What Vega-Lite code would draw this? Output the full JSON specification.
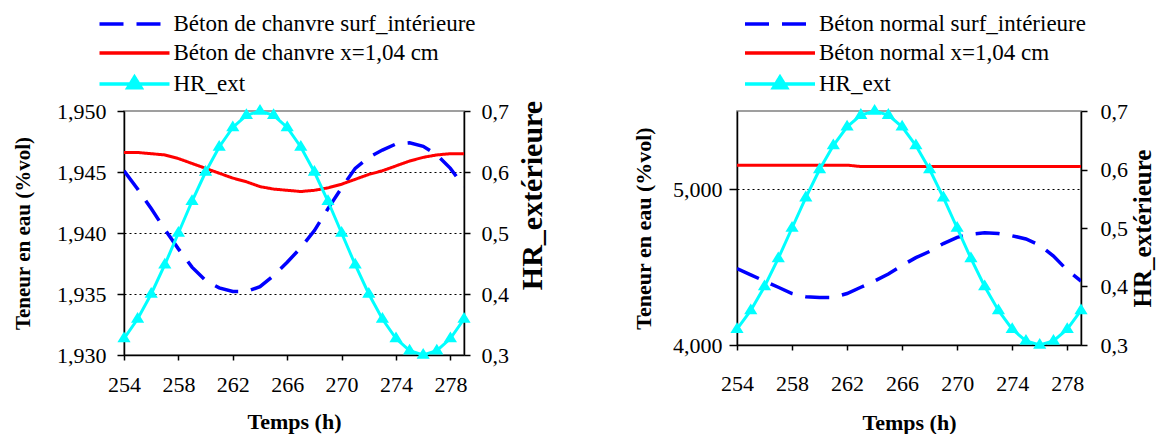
{
  "$schema": "https://vega.github.io/schema/vega-lite/v6.json",
  "padding": {"left": 11, "top": 11, "right": 0, "bottom": 0},
  "spacing": 82,
  "config": {
    "font": "Liberation Serif",
    "view": {"stroke": "#808080", "strokeWidth": 1.5},
    "axis": {"labelFont": "Liberation Serif", "labelFontSize": 22, "labelColor": "black", "titleFont": "Liberation Serif", "titleFontWeight": "bold", "titleColor": "black", "domainColor": "black", "tickColor": "black", "domainWidth": 1.5, "tickWidth": 1.5, "grid": false, "labelFlush": false, "labelOverlap": false},
    "legend": {"labelFont": "Liberation Serif", "labelFontSize": 23, "labelColor": "black", "symbolStrokeWidth": 3.5, "symbolSize": 400, "labelOffset": 27, "rowPadding": 5, "padding": 0, "labelLimit": 500}
  },
  "datasets": {
    "chanvre": [
      {"t":254,"serie":"Béton de chanvre surf_intérieure","v":1.9451},{"t":255,"serie":"Béton de chanvre surf_intérieure","v":1.9436},{"t":256,"serie":"Béton de chanvre surf_intérieure","v":1.9420},{"t":257,"serie":"Béton de chanvre surf_intérieure","v":1.9403},{"t":258,"serie":"Béton de chanvre surf_intérieure","v":1.9387},{"t":259,"serie":"Béton de chanvre surf_intérieure","v":1.9372},{"t":260,"serie":"Béton de chanvre surf_intérieure","v":1.9361},{"t":261,"serie":"Béton de chanvre surf_intérieure","v":1.9355},{"t":262,"serie":"Béton de chanvre surf_intérieure","v":1.9352},{"t":263,"serie":"Béton de chanvre surf_intérieure","v":1.9352},{"t":264,"serie":"Béton de chanvre surf_intérieure","v":1.9356},{"t":265,"serie":"Béton de chanvre surf_intérieure","v":1.9365},{"t":266,"serie":"Béton de chanvre surf_intérieure","v":1.9376},{"t":267,"serie":"Béton de chanvre surf_intérieure","v":1.9388},{"t":268,"serie":"Béton de chanvre surf_intérieure","v":1.9402},{"t":269,"serie":"Béton de chanvre surf_intérieure","v":1.9420},{"t":270,"serie":"Béton de chanvre surf_intérieure","v":1.9437},{"t":271,"serie":"Béton de chanvre surf_intérieure","v":1.9453},{"t":272,"serie":"Béton de chanvre surf_intérieure","v":1.9462},{"t":273,"serie":"Béton de chanvre surf_intérieure","v":1.9468},{"t":274,"serie":"Béton de chanvre surf_intérieure","v":1.9473},{"t":275,"serie":"Béton de chanvre surf_intérieure","v":1.9474},{"t":276,"serie":"Béton de chanvre surf_intérieure","v":1.9471},{"t":277,"serie":"Béton de chanvre surf_intérieure","v":1.9464},{"t":278,"serie":"Béton de chanvre surf_intérieure","v":1.9453},{"t":279,"serie":"Béton de chanvre surf_intérieure","v":1.9438},
      {"t":254,"serie":"Béton de chanvre x=1,04 cm","v":1.9466},{"t":255,"serie":"Béton de chanvre x=1,04 cm","v":1.9466},{"t":256,"serie":"Béton de chanvre x=1,04 cm","v":1.9465},{"t":257,"serie":"Béton de chanvre x=1,04 cm","v":1.9464},{"t":258,"serie":"Béton de chanvre x=1,04 cm","v":1.9461},{"t":259,"serie":"Béton de chanvre x=1,04 cm","v":1.9457},{"t":260,"serie":"Béton de chanvre x=1,04 cm","v":1.9453},{"t":261,"serie":"Béton de chanvre x=1,04 cm","v":1.9449},{"t":262,"serie":"Béton de chanvre x=1,04 cm","v":1.9445},{"t":263,"serie":"Béton de chanvre x=1,04 cm","v":1.9442},{"t":264,"serie":"Béton de chanvre x=1,04 cm","v":1.9438},{"t":265,"serie":"Béton de chanvre x=1,04 cm","v":1.9436},{"t":266,"serie":"Béton de chanvre x=1,04 cm","v":1.9435},{"t":267,"serie":"Béton de chanvre x=1,04 cm","v":1.9434},{"t":268,"serie":"Béton de chanvre x=1,04 cm","v":1.9435},{"t":269,"serie":"Béton de chanvre x=1,04 cm","v":1.9437},{"t":270,"serie":"Béton de chanvre x=1,04 cm","v":1.9440},{"t":271,"serie":"Béton de chanvre x=1,04 cm","v":1.9444},{"t":272,"serie":"Béton de chanvre x=1,04 cm","v":1.9448},{"t":273,"serie":"Béton de chanvre x=1,04 cm","v":1.9451},{"t":274,"serie":"Béton de chanvre x=1,04 cm","v":1.9455},{"t":275,"serie":"Béton de chanvre x=1,04 cm","v":1.9459},{"t":276,"serie":"Béton de chanvre x=1,04 cm","v":1.9462},{"t":277,"serie":"Béton de chanvre x=1,04 cm","v":1.9464},{"t":278,"serie":"Béton de chanvre x=1,04 cm","v":1.9465},{"t":279,"serie":"Béton de chanvre x=1,04 cm","v":1.9465}
    ],
    "normal": [
      {"t":254,"serie":"Béton normal surf_intérieure","v":4.49},{"t":255,"serie":"Béton normal surf_intérieure","v":4.45},{"t":256,"serie":"Béton normal surf_intérieure","v":4.41},{"t":257,"serie":"Béton normal surf_intérieure","v":4.37},{"t":258,"serie":"Béton normal surf_intérieure","v":4.33},{"t":259,"serie":"Béton normal surf_intérieure","v":4.31},{"t":260,"serie":"Béton normal surf_intérieure","v":4.305},{"t":261,"serie":"Béton normal surf_intérieure","v":4.305},{"t":262,"serie":"Béton normal surf_intérieure","v":4.33},{"t":263,"serie":"Béton normal surf_intérieure","v":4.37},{"t":264,"serie":"Béton normal surf_intérieure","v":4.41},{"t":265,"serie":"Béton normal surf_intérieure","v":4.455},{"t":266,"serie":"Béton normal surf_intérieure","v":4.51},{"t":267,"serie":"Béton normal surf_intérieure","v":4.56},{"t":268,"serie":"Béton normal surf_intérieure","v":4.60},{"t":269,"serie":"Béton normal surf_intérieure","v":4.65},{"t":270,"serie":"Béton normal surf_intérieure","v":4.69},{"t":271,"serie":"Béton normal surf_intérieure","v":4.71},{"t":272,"serie":"Béton normal surf_intérieure","v":4.72},{"t":273,"serie":"Béton normal surf_intérieure","v":4.715},{"t":274,"serie":"Béton normal surf_intérieure","v":4.70},{"t":275,"serie":"Béton normal surf_intérieure","v":4.68},{"t":276,"serie":"Béton normal surf_intérieure","v":4.64},{"t":277,"serie":"Béton normal surf_intérieure","v":4.57},{"t":278,"serie":"Béton normal surf_intérieure","v":4.48},{"t":279,"serie":"Béton normal surf_intérieure","v":4.41},
      {"t":254,"serie":"Béton normal x=1,04 cm","v":5.153},{"t":255,"serie":"Béton normal x=1,04 cm","v":5.153},{"t":256,"serie":"Béton normal x=1,04 cm","v":5.153},{"t":257,"serie":"Béton normal x=1,04 cm","v":5.153},{"t":258,"serie":"Béton normal x=1,04 cm","v":5.153},{"t":259,"serie":"Béton normal x=1,04 cm","v":5.153},{"t":260,"serie":"Béton normal x=1,04 cm","v":5.153},{"t":261,"serie":"Béton normal x=1,04 cm","v":5.153},{"t":262,"serie":"Béton normal x=1,04 cm","v":5.153},{"t":263,"serie":"Béton normal x=1,04 cm","v":5.144},{"t":264,"serie":"Béton normal x=1,04 cm","v":5.144},{"t":265,"serie":"Béton normal x=1,04 cm","v":5.144},{"t":266,"serie":"Béton normal x=1,04 cm","v":5.144},{"t":267,"serie":"Béton normal x=1,04 cm","v":5.144},{"t":268,"serie":"Béton normal x=1,04 cm","v":5.144},{"t":269,"serie":"Béton normal x=1,04 cm","v":5.144},{"t":270,"serie":"Béton normal x=1,04 cm","v":5.144},{"t":271,"serie":"Béton normal x=1,04 cm","v":5.144},{"t":272,"serie":"Béton normal x=1,04 cm","v":5.144},{"t":273,"serie":"Béton normal x=1,04 cm","v":5.144},{"t":274,"serie":"Béton normal x=1,04 cm","v":5.144},{"t":275,"serie":"Béton normal x=1,04 cm","v":5.144},{"t":276,"serie":"Béton normal x=1,04 cm","v":5.144},{"t":277,"serie":"Béton normal x=1,04 cm","v":5.144},{"t":278,"serie":"Béton normal x=1,04 cm","v":5.144},{"t":279,"serie":"Béton normal x=1,04 cm","v":5.144}
    ],
    "hr": [
      {"t":254,"serie":"HR_ext","v":0.327},{"t":255,"serie":"HR_ext","v":0.359},{"t":256,"serie":"HR_ext","v":0.400},{"t":257,"serie":"HR_ext","v":0.448},{"t":258,"serie":"HR_ext","v":0.500},{"t":259,"serie":"HR_ext","v":0.552},{"t":260,"serie":"HR_ext","v":0.600},{"t":261,"serie":"HR_ext","v":0.641},{"t":262,"serie":"HR_ext","v":0.673},{"t":263,"serie":"HR_ext","v":0.693},{"t":264,"serie":"HR_ext","v":0.700},{"t":265,"serie":"HR_ext","v":0.693},{"t":266,"serie":"HR_ext","v":0.673},{"t":267,"serie":"HR_ext","v":0.641},{"t":268,"serie":"HR_ext","v":0.600},{"t":269,"serie":"HR_ext","v":0.552},{"t":270,"serie":"HR_ext","v":0.500},{"t":271,"serie":"HR_ext","v":0.448},{"t":272,"serie":"HR_ext","v":0.400},{"t":273,"serie":"HR_ext","v":0.359},{"t":274,"serie":"HR_ext","v":0.327},{"t":275,"serie":"HR_ext","v":0.307},{"t":276,"serie":"HR_ext","v":0.300},{"t":277,"serie":"HR_ext","v":0.307},{"t":278,"serie":"HR_ext","v":0.327},{"t":279,"serie":"HR_ext","v":0.359}
    ]
  },
  "hconcat": [
    {
      "width": 340,
      "height": 244,
      "layer": [
        {
          "layer": [
            {
              "data": {"name": "chanvre"},
              "transform": [{"filter": "datum.serie == 'Béton de chanvre surf_intérieure'"}],
              "mark": {"type": "line", "strokeWidth": 3.5, "clip": true},
              "encoding": {
                "x": {"field": "t", "type": "quantitative", "scale": {"domain": [254, 279], "nice": false, "zero": false}, "axis": {"values": [254, 258, 262, 266, 270, 274, 278], "title": "Temps (h)", "titleFontSize": 22, "tickSize": 5, "labelPadding": 14, "titlePadding": 16}},
                "y": {"field": "v", "type": "quantitative", "scale": {"domain": [1.93, 1.95], "nice": false, "zero": false}, "axis": {"values": [1.93, 1.935, 1.94, 1.945, 1.95], "labelExpr": "replace(format(datum.value, '.3f'), '.', ',')", "title": "Teneur en eau (%vol)", "titleFontSize": 21, "tickSize": 7, "labelPadding": 11, "titlePadding": 23, "grid": true, "gridColor": "black", "gridDash": [2, 3], "gridWidth": 1, "gridOpacity": {"condition": {"test": "datum.value > 1.9495 || datum.value < 1.9305", "value": 0}, "value": 1}}},
                "color": {"field": "serie", "type": "nominal", "scale": {"domain": ["Béton de chanvre surf_intérieure", "Béton de chanvre x=1,04 cm", "HR_ext"], "range": ["#0000FF", "#FF0000", "#00FFFF"]}, "legend": {"title": null, "orient": "none", "legendX": -1.5, "legendY": -99}},
                "strokeDash": {"field": "serie", "type": "nominal", "scale": {"domain": ["Béton de chanvre surf_intérieure", "Béton de chanvre x=1,04 cm", "HR_ext"], "range": [[24, 13], [1, 0], [1, 0]]}, "legend": {"title": null, "orient": "none", "legendX": -1.5, "legendY": -99}}
              }
            },
            {
              "data": {"name": "chanvre"},
              "transform": [{"filter": "datum.serie == 'Béton de chanvre x=1,04 cm'"}],
              "mark": {"type": "line", "strokeWidth": 3, "clip": true},
              "encoding": {
                "x": {"field": "t", "type": "quantitative"},
                "y": {"field": "v", "type": "quantitative"},
                "color": {"field": "serie", "type": "nominal"},
                "strokeDash": {"field": "serie", "type": "nominal"}
              }
            }
          ]
        },
        {
          "layer": [
            {
              "data": {"name": "hr"},
              "mark": {"type": "line", "strokeWidth": 3},
              "encoding": {
                "x": {"field": "t", "type": "quantitative"},
                "y": {"field": "v", "type": "quantitative", "scale": {"domain": [0.3, 0.7], "nice": false, "zero": false}, "axis": {"orient": "right", "values": [0.3, 0.4, 0.5, 0.6, 0.7], "labelExpr": "replace(format(datum.value, '.1f'), '.', ',')", "title": "HR_extérieure", "titleFontSize": 30, "titleAngle": 270, "titleBaseline": "top", "titleY": 84, "tickSize": 6, "labelPadding": 11, "titlePadding": 9}},
                "color": {"field": "serie", "type": "nominal"}
              }
            },
            {
              "data": {"name": "hr"},
              "mark": {"type": "point", "filled": true, "opacity": 1, "size": 400, "strokeWidth": 0},
              "encoding": {
                "x": {"field": "t", "type": "quantitative"},
                "y": {"field": "v", "type": "quantitative"},
                "color": {"field": "serie", "type": "nominal"},
                "shape": {"field": "serie", "type": "nominal", "scale": {"domain": ["Béton de chanvre surf_intérieure", "Béton de chanvre x=1,04 cm", "HR_ext"], "range": ["M-3.5,0H3.5", "M-3.5,0H3.5", "M-3.5,0H3.5M0,-0.7L0.66,0.38L-0.66,0.38Z"]}, "legend": {"title": null, "orient": "none", "legendX": -1.5, "legendY": -99}}
              }
            }
          ]
        }
      ],
      "resolve": {"scale": {"y": "independent"}}
    },
    {
      "width": 344,
      "height": 234,
      "layer": [
        {
          "layer": [
            {
              "data": {"name": "normal"},
              "transform": [{"filter": "datum.serie == 'Béton normal surf_intérieure'"}],
              "mark": {"type": "line", "strokeWidth": 3.5, "clip": true},
              "encoding": {
                "x": {"field": "t", "type": "quantitative", "scale": {"domain": [254, 279], "nice": false, "zero": false}, "axis": {"values": [254, 258, 262, 266, 270, 274, 278], "title": "Temps (h)", "titleFontSize": 22, "tickSize": 5, "labelPadding": 23, "titlePadding": 18}},
                "y": {"field": "v", "type": "quantitative", "scale": {"domain": [4, 5.5], "nice": false, "zero": false}, "axis": {"values": [4, 5], "labelExpr": "replace(format(datum.value, '.3f'), '.', ',')", "title": "Teneur en eau (%vol)", "titleFontSize": 22, "tickSize": 8, "labelPadding": 7, "titlePadding": 17, "grid": true, "gridColor": "black", "gridDash": [2, 3], "gridWidth": 1, "gridOpacity": {"condition": {"test": "datum.value < 4.01", "value": 0}, "value": 1}}},
                "color": {"field": "serie", "type": "nominal", "scale": {"domain": ["Béton normal surf_intérieure", "Béton normal x=1,04 cm", "HR_ext"], "range": ["#0000FF", "#FF0000", "#00FFFF"]}, "legend": {"title": null, "orient": "none", "legendX": 31, "legendY": -99}},
                "strokeDash": {"field": "serie", "type": "nominal", "scale": {"domain": ["Béton normal surf_intérieure", "Béton normal x=1,04 cm", "HR_ext"], "range": [[24, 13], [1, 0], [1, 0]]}, "legend": {"title": null, "orient": "none", "legendX": 31, "legendY": -99}}
              }
            },
            {
              "data": {"name": "normal"},
              "transform": [{"filter": "datum.serie == 'Béton normal x=1,04 cm'"}],
              "mark": {"type": "line", "strokeWidth": 3, "clip": true},
              "encoding": {
                "x": {"field": "t", "type": "quantitative"},
                "y": {"field": "v", "type": "quantitative"},
                "color": {"field": "serie", "type": "nominal"},
                "strokeDash": {"field": "serie", "type": "nominal"}
              }
            }
          ]
        },
        {
          "layer": [
            {
              "data": {"name": "hr"},
              "mark": {"type": "line", "strokeWidth": 3},
              "encoding": {
                "x": {"field": "t", "type": "quantitative"},
                "y": {"field": "v", "type": "quantitative", "scale": {"domain": [0.3, 0.7], "nice": false, "zero": false}, "axis": {"orient": "right", "values": [0.3, 0.4, 0.5, 0.6, 0.7], "labelExpr": "replace(format(datum.value, '.1f'), '.', ',')", "title": "HR_extérieure", "titleFontSize": 25, "titleAngle": 270, "titleBaseline": "top", "tickSize": 6, "labelPadding": 13, "titlePadding": 3}},
                "color": {"field": "serie", "type": "nominal"}
              }
            },
            {
              "data": {"name": "hr"},
              "mark": {"type": "point", "filled": true, "opacity": 1, "size": 400, "strokeWidth": 0},
              "encoding": {
                "x": {"field": "t", "type": "quantitative"},
                "y": {"field": "v", "type": "quantitative"},
                "color": {"field": "serie", "type": "nominal"},
                "shape": {"field": "serie", "type": "nominal", "scale": {"domain": ["Béton normal surf_intérieure", "Béton normal x=1,04 cm", "HR_ext"], "range": ["M-3.5,0H3.5", "M-3.5,0H3.5", "M-3.5,0H3.5M0,-0.7L0.66,0.38L-0.66,0.38Z"]}, "legend": {"title": null, "orient": "none", "legendX": 31, "legendY": -99}}
              }
            }
          ]
        }
      ],
      "resolve": {"scale": {"y": "independent"}}
    }
  ],
  "resolve": {"scale": {"color": "independent", "strokeDash": "independent", "shape": "independent"}}
}
